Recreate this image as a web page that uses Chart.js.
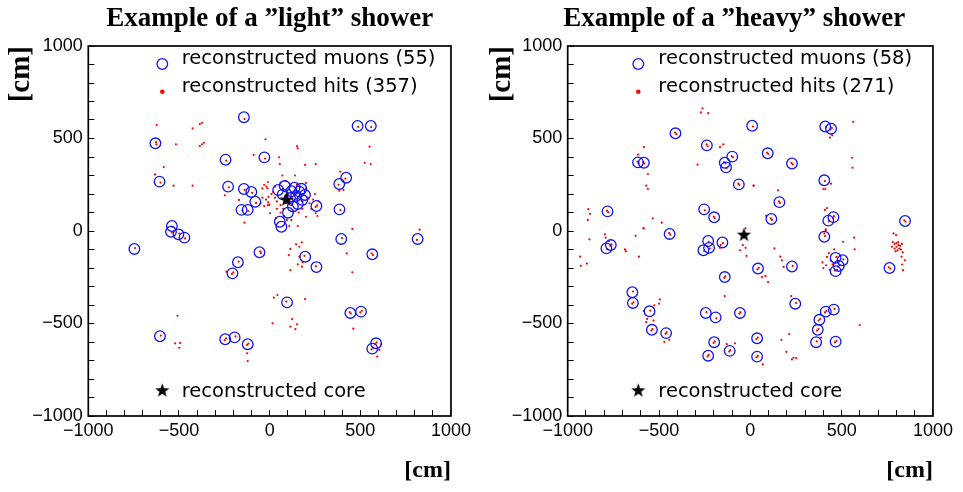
<!DOCTYPE html>
<html>
<head>
<meta charset="utf-8">
<script src="https://cdn.jsdelivr.net/npm/chart.js@4.4.1/dist/chart.umd.min.js"></script>
<style>
  html, body { margin: 0; padding: 0; background: #fff; overflow: hidden; }
  canvas { position: absolute; top: 0; }
  #lightChart { left: 0; }
  #heavyChart { left: 481px; }
</style>
</head>
<body>
<canvas id="lightChart" width="481" height="492"></canvas>
<canvas id="heavyChart" width="482" height="492"></canvas>
<script>
// tick labels shown on both axes (ticks every 100 cm)
const labeledTicks = [-1000, -500, 0, 500, 1000];

// "light" shower, positions in cm
const lightCore = [[92, 168]];
const lightMuons = [
  [-142, 615], [-630, 474], [-29, 398], [-243, 385], [-607, 267], [-229, 240], [-142, 227], [-101, 211],
  [-79, 158], [-155, 114], [-121, 114], [-539, 27], [-544, -4], [-503, -18], [-470, -36], [-746, -97],
  [-56, -115], [-175, -169], [-205, -229], [-605, -569], [-245, -585], [-193, -575], [-121, -612],
  [485, 568], [558, 568], [422, 288], [384, 254], [385, 117], [258, 135], [47, 222], [83, 243],
  [137, 234], [164, 213], [146, 189], [195, 195], [155, 146], [101, 99], [56, 50], [65, 23],
  [395, -43], [816, -43], [196, -139], [566, -126], [258, -195], [96, -386], [445, -443], [504, -436],
  [587, -607], [566, -636], [120, 215], [175, 228], [112, 178], [72, 198], [180, 168], [128, 132]
];
const lightHits = [
  [-623, 573], [-385, 578], [-373, 585], [-425, 555], [-517, 469], [-385, 459], [-373, 469], [-362, 477],
  [-23, 496], [-584, 346], [-632, 306], [-530, 245], [-425, 245], [-88, 412], [-10, 265], [-30, 250],
  [-18, 240], [-40, 230], [-12, 230], [-169, 168], [-247, 193], [-40, 180], [-20, 170], [-50, 150],
  [-8, 155], [-10, 140], [-30, 135], [-139, 45], [-508, -458], [-521, -607], [-494, -605], [-499, -631],
  [-124, -661], [-121, -703], [-238, -220], [456, 11], [827, 7], [114, -97], [146, -72], [164, -85],
  [177, -61], [106, -130], [164, -139], [182, -169], [155, -180], [178, -193], [114, -211], [425, -121],
  [456, -223], [23, -360], [43, -346], [195, -368], [16, -499], [124, -476], [151, -504], [114, -517],
  [142, -530], [461, -528], [593, -679], [615, -611], [605, -643], [108, 27], [155, 27],
  [151, 459], [155, 447], [52, 398], [551, 456], [524, 369], [557, 362], [196, 357], [254, 362],
  [56, 362], [389, 321], [407, 222], [384, 218], [254, 96], [263, 81], [200, 77], [-7, 185],
  [-2, 141], [2, 96],
  [20, 210], [30, 180], [40, 160], [60, 140], [75, 120], [90, 150], [110, 160], [120, 140],
  [130, 110], [100, 200], [115, 250], [150, 250], [170, 240], [200, 230], [210, 180], [220, 150],
  [240, 170], [230, 120], [180, 120], [160, 100], [80, 80], [60, 100], [40, 120], [30, 240],
  [60, 260], [90, 270], [200, 260], [250, 200], [270, 160], [10, 200], [85, 190], [125, 175],
  [150, 205], [180, 160], [95, 60], [120, 60], [35, 70], [140, 300], [70, 300],
  [-138, 605], [-625, 468], [-627, 480], [-25, 392], [-240, 380], [-602, 262], [-225, 236], [-138, 222],
  [-96, 206], [-75, 152], [-150, 110], [-118, 108], [-535, 22], [-540, -8], [-498, -14], [-466, -40],
  [-742, -92], [-52, -110], [-48, -120], [-171, -165], [-200, -224], [-208, -232], [-600, -565], [-240, -580],
  [-248, -590], [-188, -570], [-117, -608], [-124, -616], [488, 563], [560, 562], [418, 283], [380, 250],
  [390, 113], [254, 130], [262, 138], [92, -381], [441, -438], [448, -446], [508, -431], [500, -440],
  [590, -602], [584, -612], [570, -631], [562, -640], [399, -38], [812, -48], [192, -134], [562, -121],
  [570, -130], [255, -190]
];

// "heavy" shower, positions in cm
const heavyCore = [[-35, -22]];
const heavyMuons = [
  [-410, 528], [-238, 463], [-99, 402], [-140, 369], [-133, 344], [-615, 371], [-583, 369], [-63, 252],
  [10, 569], [-782, 106], [-253, 117], [-198, 74], [-442, -16], [410, 565], [442, 553], [95, 420],
  [228, 365], [405, 274], [159, 156], [115, 65], [427, 56], [455, 75], [847, 54], [-788, -94],
  [-764, -76], [-231, -54], [-153, -62], [-257, -104], [-226, -91], [-140, -249], [-646, -331], [-643, -389],
  [-552, -434], [-539, -534], [-461, -552], [-244, -443], [-190, -467], [-57, -443], [-198, -601], [-113, -648],
  [-231, -674], [405, -31], [42, -203], [228, -192], [467, -145], [505, -158], [484, -189], [467, -217],
  [762, -200], [246, -393], [413, -436], [457, -425], [378, -480], [369, -534], [360, -601], [467, -598],
  [37, -580], [37, -679]
];
const heavyHits = [
  [-262, 663], [-271, 641], [-231, 637], [-583, 453], [-615, 413], [-561, 308], [-570, 245], [-561, 227],
  [-166, 453], [-148, 468], [-289, 359], [19, 245], [-887, 118], [-878, 93], [-890, 60], [-534, 69],
  [-485, 45], [-584, 15], [-26, 15], [563, 590], [557, 396], [559, 342], [436, 505], [448, 518],
  [17, 245], [151, 220], [400, 227], [410, 227], [442, 256], [420, 124], [408, 114], [86, 82],
  [413, 9], [-881, -45], [-932, -139], [-928, -188], [-895, -176], [-796, -18], [-792, -36], [-774, -54],
  [-687, -99], [-682, -109], [-628, -26], [-586, 15], [-610, -139], [-583, -433], [-565, -475], [-570, -493],
  [-526, -402], [-499, -393], [-495, -370], [-530, -484], [-471, -599], [-444, -588], [-166, -91], [-162, -76],
  [-57, -104], [-41, -76], [-26, -91], [-21, -134], [-140, -352], [-129, -612], [-84, -607], [132, -94],
  [164, -139], [173, -158], [182, -194], [64, -249], [83, -244], [97, -276], [413, 5], [405, -13],
  [508, -58], [568, -36], [571, -99], [459, -99], [784, -13], [798, -22], [828, -139], [846, -158],
  [831, -181], [836, -212], [224, -352], [599, -508], [213, -557], [170, -588], [387, -576], [197, -653],
  [228, -694], [237, -685], [251, -687], [68, -721],
  [430, -120], [420, -140], [440, -160], [450, -180], [415, -185], [400, -200], [435, -210], [475, -210],
  [395, -170], [780, -60], [790, -70], [800, -65], [810, -75], [820, -80], [800, -85], [790, -95],
  [815, -95], [825, -100], [805, -105], [830, -70], [775, -85], [795, -110], [835, -115], [810, -60],
  [-405, 524], [-412, 532], [-234, 458], [-240, 468], [-95, 398], [-102, 405], [-136, 365], [-144, 372],
  [-130, 340], [-612, 366], [-618, 375], [-580, 365], [-586, 372], [-60, 248], [-66, 256], [14, 565],
  [-778, 102], [-785, 110], [-249, 112], [-195, 70], [-200, 78], [-438, -20], [-445, -12], [414, 560],
  [438, 548], [446, 557], [98, 416], [92, 424], [232, 360], [225, 368], [408, 270], [162, 152],
  [156, 160], [118, 60], [112, 68], [430, 52], [452, 70], [458, 80], [850, 50], [843, 58],
  [-784, -98], [-760, -72], [-767, -80], [-228, -58], [-150, -66], [-253, -108], [-222, -95], [-137, -245],
  [-143, -253], [-642, -327], [-640, -385], [-647, -393], [-548, -430], [-536, -530], [-542, -538], [-458, -548],
  [-464, -556], [-240, -439], [-186, -472], [-54, -439], [-60, -447], [-195, -597], [-201, -605], [-110, -644],
  [-116, -652], [-228, -670], [-234, -678], [409, -27], [46, -199], [38, -207], [232, -188], [471, -141],
  [509, -154], [488, -185], [480, -193], [463, -213], [758, -196], [766, -204], [250, -389], [417, -432],
  [409, -440], [461, -421], [382, -476], [374, -484], [373, -530], [365, -538], [364, -597], [471, -594],
  [463, -602], [41, -576], [33, -584], [41, -675], [33, -683]
];

const toPoints = arr => arr.map(p => ({ x: p[0], y: p[1] }));
const fmtTick = v => labeledTicks.includes(v) ? (v < 0 ? '\u2212' + Math.abs(v) : String(v)) : '';

const MUON_BLUE = '#1414f0';
const HIT_RED = '#ff0000';

// filled five-pointed star used for the core
function makeStar(r) {
  const s = Math.ceil(r * 2 + 2);
  const c = document.createElement('canvas');
  c.width = s; c.height = s;
  const g = c.getContext('2d');
  g.fillStyle = '#000';
  g.beginPath();
  for (let i = 0; i < 10; i++) {
    const rad = i % 2 === 0 ? r : r * 0.4;
    const a = -Math.PI / 2 + i * Math.PI / 5;
    g.lineTo(s / 2 + rad * Math.cos(a), s / 2 + rad * Math.sin(a));
  }
  g.closePath();
  g.fill();
  return c;
}
const star = makeStar(7.5);

// panel title, frame around the plot and the in-plot legend
const frameLegend = {
  id: 'frameLegend',
  afterDraw(chart, args, opts) {
    const { ctx, chartArea: a } = chart;
    ctx.save();
    ctx.fillStyle = '#000';
    ctx.font = 'bold 27px "Liberation Serif", "Times New Roman", serif';
    ctx.textAlign = 'center';
    ctx.textBaseline = 'middle';
    ctx.fillText(opts.title, (a.left + a.right) / 2 + opts.titleShift, 19);

    ctx.strokeStyle = '#000';
    ctx.lineWidth = 1.7;
    ctx.strokeRect(a.left, a.top, a.right - a.left, a.bottom - a.top);

    ctx.font = '19.5px "DejaVu Sans"';
    ctx.textAlign = 'left';
    opts.items.forEach(item => {
      const mx = a.left + opts.markerX;
      const my = a.top + item.markerY;
      if (item.marker === 'circle') {
        ctx.strokeStyle = MUON_BLUE;
        ctx.lineWidth = 1.3;
        ctx.beginPath();
        ctx.arc(mx, my, 5.3, 0, Math.PI * 2);
        ctx.stroke();
      } else if (item.marker === 'dot') {
        ctx.fillStyle = HIT_RED;
        ctx.beginPath();
        ctx.arc(mx, my, 2.3, 0, Math.PI * 2);
        ctx.fill();
      } else {
        ctx.drawImage(star, mx - star.width / 2, my - star.height / 2);
      }
      ctx.fillStyle = '#000';
      ctx.fillText(item.text, a.left + opts.textX, a.top + item.textY);
    });
    ctx.restore();
  }
};

function buildChart(id, cfg) {
  const tickFont = { family: '"Liberation Sans", Arial, sans-serif', size: 18 };
  const serifBold = size => ({ family: '"Liberation Serif", "Times New Roman", serif', size: size, weight: 'bold' });
  return new Chart(document.getElementById(id), {
    type: 'scatter',
    data: {
      datasets: [
        { label: 'reconstructed core', data: toPoints(cfg.core), pointStyle: star, pointRadius: 7 },
        { label: 'reconstructed muons', data: toPoints(cfg.muons), pointStyle: 'circle', pointRadius: 5.3,
          borderColor: MUON_BLUE, backgroundColor: 'rgba(0,0,0,0)', borderWidth: 1.3 },
        { label: 'reconstructed hits', data: toPoints(cfg.hits), pointStyle: 'circle', pointRadius: 1.1,
          borderWidth: 0, backgroundColor: HIT_RED, borderColor: HIT_RED }
      ]
    },
    options: {
      responsive: false,
      animation: false,
      events: [],
      layout: { padding: { left: 4, right: cfg.padRight, top: 46, bottom: 0 } },
      plugins: {
        legend: { display: false },
        tooltip: { enabled: false },
        title: { display: false },
        frameLegend: {
          title: cfg.title,
          titleShift: cfg.titleShift,
          markerX: cfg.legendMarkerX,
          textX: cfg.legendTextX,
          items: [
            { marker: 'circle', text: 'reconstructed muons (' + cfg.muons.length + ')', markerY: 18, textY: 13 },
            { marker: 'dot', text: 'reconstructed hits (' + cfg.hitCount + ')', markerY: 45.7, textY: 40.6 },
            { marker: 'star', text: 'reconstructed core', markerY: 344.7, textY: 345.6 }
          ]
        }
      },
      scales: {
        x: {
          type: 'linear',
          position: 'bottom',
          min: -1000,
          max: 1000,
          afterFit: s => { s.height = 76; },
          border: { display: false },
          grid: { drawOnChartArea: false, drawTicks: true, tickLength: -6, tickColor: '#000', tickWidth: 1 },
          ticks: { stepSize: 100, autoSkip: false, maxRotation: 0, padding: 10, color: '#000', font: tickFont, callback: fmtTick },
          title: { display: true, text: '[cm]', align: 'end', color: '#000', font: serifBold(24), padding: { top: 0, bottom: 7 } }
        },
        y: {
          type: 'linear',
          position: 'left',
          min: -1000,
          max: 1000,
          afterFit: s => { s.width = cfg.yWidth; },
          border: { display: false },
          grid: { drawOnChartArea: false, drawTicks: true, tickLength: -6, tickColor: '#000', tickWidth: 1 },
          ticks: { stepSize: 100, autoSkip: false, padding: 11.5, color: '#000', font: tickFont, callback: fmtTick },
          title: { display: true, text: '[cm]', align: 'end', color: '#000', font: serifBold(29), padding: { top: 0, bottom: 0 } }
        }
      }
    },
    plugins: [frameLegend]
  });
}

buildChart('lightChart', {
  title: 'Example of a \u201dlight\u201d shower',
  titleShift: 0,
  core: lightCore, muons: lightMuons, hits: lightHits, hitCount: 357,
  padRight: 23, yWidth: 84.3,
  legendMarkerX: 74, legendTextX: 93.4
});

buildChart('heavyChart', {
  title: 'Example of a \u201dheavy\u201d shower',
  titleShift: -16,
  core: heavyCore, muons: heavyMuons, hits: heavyHits, hitCount: 271,
  padRight: 28, yWidth: 82.7,
  legendMarkerX: 70.6, legendTextX: 90.6
});
</script>
</body>
</html>
